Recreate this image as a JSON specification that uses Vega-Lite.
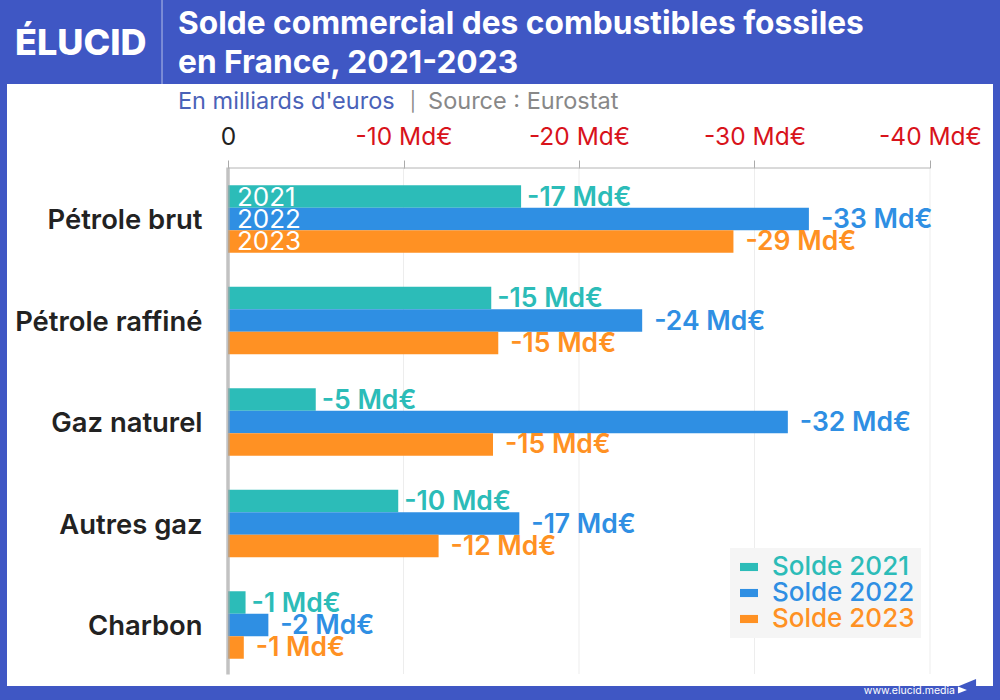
{
  "$schema": "https://vega.github.io/schema/vega-lite/v6.json",
  "autosize": "none",
  "width": 986,
  "height": 602,
  "padding": {"left": 7, "top": 84, "right": 7, "bottom": 14},
  "background": "#3f57c4",
  "view": {"fill": "white", "stroke": null},
  "config": {"font": "Inter"},
  "title": {
    "text": ["Solde commercial des combustibles fossiles", "en France, 2021-2023"],
    "anchor": "start",
    "frame": "group",
    "dx": 171,
    "dy": 80,
    "offset": 0,
    "color": "white",
    "font": "Inter",
    "fontSize": 31.7,
    "fontWeight": 700,
    "lineHeight": 39
  },
  "datasets": {
    "soldes": [
      {"categorie": "Pétrole brut", "annee": "2021", "solde": -16.7, "etiquette": "-17 Md€"},
      {"categorie": "Pétrole brut", "annee": "2022", "solde": -33.1, "etiquette": "-33 Md€"},
      {"categorie": "Pétrole brut", "annee": "2023", "solde": -28.8, "etiquette": "-29 Md€"},
      {"categorie": "Pétrole raffiné", "annee": "2021", "solde": -15.0, "etiquette": "-15 Md€"},
      {"categorie": "Pétrole raffiné", "annee": "2022", "solde": -23.6, "etiquette": "-24 Md€"},
      {"categorie": "Pétrole raffiné", "annee": "2023", "solde": -15.4, "etiquette": "-15 Md€"},
      {"categorie": "Gaz naturel", "annee": "2021", "solde": -5.0, "etiquette": "-5 Md€"},
      {"categorie": "Gaz naturel", "annee": "2022", "solde": -31.9, "etiquette": "-32 Md€"},
      {"categorie": "Gaz naturel", "annee": "2023", "solde": -15.1, "etiquette": "-15 Md€"},
      {"categorie": "Autres gaz", "annee": "2021", "solde": -9.7, "etiquette": "-10 Md€"},
      {"categorie": "Autres gaz", "annee": "2022", "solde": -16.6, "etiquette": "-17 Md€"},
      {"categorie": "Autres gaz", "annee": "2023", "solde": -12.0, "etiquette": "-12 Md€"},
      {"categorie": "Charbon", "annee": "2021", "solde": -1.0, "etiquette": "-1 Md€"},
      {"categorie": "Charbon", "annee": "2022", "solde": -2.3, "etiquette": "-2 Md€"},
      {"categorie": "Charbon", "annee": "2023", "solde": -0.9, "etiquette": "-1 Md€"}
    ],
    "graduations": [{"valeur": -10}, {"valeur": -20}, {"valeur": -30}, {"valeur": -40}]
  },
  "layer": [
    {
      "data": {"name": "graduations"},
      "mark": {"type": "tick", "color": "#e6e6e6", "thickness": 1, "size": 506, "yOffset": -1},
      "encoding": {
        "x": {
          "field": "valeur",
          "type": "quantitative",
          "scale": {"domain": [12.593, -43.59], "nice": false, "zero": false},
          "axis": {
            "orient": "top",
            "title": null,
            "offset": -84,
            "values": [0, -10, -20, -30, -40],
            "grid": false,
            "domain": false,
            "tickSize": 8,
            "tickColor": "#aaaaaa",
            "labelPadding": 11,
            "labelFontSize": 24.5,
            "labelFontWeight": 400,
            "labelColor": {"condition": {"test": "datum.value === 0", "value": "#222222"}, "value": "#d8131b"},
            "labelExpr": "datum.value === 0 ? '0' : datum.value + ' Md€'"
          }
        },
        "y": {
          "datum": "Gaz naturel",
          "type": "nominal",
          "scale": {
            "domain": ["Pétrole brut", "Pétrole raffiné", "Gaz naturel", "Autres gaz", "Charbon"],
            "range": [84.25, 591.75],
            "paddingInner": 0.335,
            "paddingOuter": 0.1675
          },
          "axis": {
            "title": null,
            "offset": -195,
            "domain": false,
            "ticks": false,
            "labelPadding": 0,
            "labelOffset": 2,
            "labelFontSize": 27.4,
            "labelFontWeight": 600,
            "labelColor": "#222222",
            "labelLimit": 300
          }
        }
      }
    },
    {
      "data": {"name": "soldes"},
      "mark": {"type": "bar"},
      "encoding": {
        "x": {"field": "solde", "type": "quantitative"},
        "x2": {"datum": 0},
        "y": {"field": "categorie", "type": "nominal"},
        "yOffset": {"field": "annee", "type": "nominal", "scale": {"paddingInner": 0, "paddingOuter": 0}},
        "color": {
          "field": "annee",
          "type": "nominal",
          "scale": {"domain": ["2021", "2022", "2023"], "range": ["#2cbcb8", "#2f8fe3", "#ff9123"]},
          "legend": {
            "title": null,
            "orient": "none",
            "legendX": 723,
            "legendY": 464,
            "fillColor": "#f5f5f5",
            "padding": 6,
            "symbolType": "M-1,-0.45H1V0.45H-1Z",
            "symbolSize": 324,
            "symbolStrokeWidth": 0,
            "labelFontSize": 26,
            "labelFontWeight": 500,
            "labelExpr": "'Solde ' + datum.label",
            "labelOffset": 10,
            "rowPadding": -2.5,
            "encode": {"labels": {"update": {"fill": {"scale": "color", "field": "value"}}}}
          }
        }
      }
    },
    {
      "data": {"values": [{"axe": "zero"}]},
      "mark": {"type": "tick", "color": "#a8a8a8", "thickness": 3.5, "size": 507, "yOffset": -1},
      "encoding": {
        "x": {"datum": 0, "type": "quantitative"},
        "y": {"datum": "Gaz naturel", "type": "nominal"}
      }
    },
    {
      "data": {"values": [{"axe": "haut"}]},
      "mark": {"type": "rule", "color": "#b4b4b4", "strokeWidth": 1, "yOffset": -51},
      "encoding": {
        "x": {"datum": 0, "type": "quantitative"},
        "x2": {"datum": -40},
        "y": {"datum": "Pétrole brut", "type": "nominal"}
      }
    },
    {
      "data": {"name": "soldes"},
      "transform": [{"filter": "datum.annee === '2021'"}],
      "mark": {"type": "text", "align": "left", "baseline": "middle", "dx": 6, "dy": 1, "fontSize": 26.5, "fontWeight": 600},
      "encoding": {
        "x": {"field": "solde", "type": "quantitative"},
        "y": {"field": "categorie", "type": "nominal"},
        "yOffset": {"field": "annee", "type": "nominal"},
        "color": {"field": "annee", "type": "nominal"},
        "text": {"field": "etiquette"}
      }
    },
    {
      "data": {"name": "soldes"},
      "transform": [{"filter": "datum.annee !== '2021'"}],
      "mark": {"type": "text", "align": "left", "baseline": "middle", "dx": 12, "dy": 1, "fontSize": 26.5, "fontWeight": 600},
      "encoding": {
        "x": {"field": "solde", "type": "quantitative"},
        "y": {"field": "categorie", "type": "nominal"},
        "yOffset": {"field": "annee", "type": "nominal"},
        "color": {"field": "annee", "type": "nominal"},
        "text": {"field": "etiquette"}
      }
    },
    {
      "data": {"name": "soldes"},
      "transform": [{"filter": "datum.categorie === 'Pétrole brut'"}],
      "mark": {"type": "text", "align": "left", "baseline": "middle", "dx": 9, "dy": 1, "fontSize": 26, "fontWeight": 400, "color": "white"},
      "encoding": {
        "x": {"datum": 0, "type": "quantitative"},
        "y": {"field": "categorie", "type": "nominal"},
        "yOffset": {"field": "annee", "type": "nominal"},
        "text": {"field": "annee"}
      }
    },
    {
      "data": {"values": [{"texte": "En milliards d'euros"}]},
      "mark": {"type": "text", "align": "left", "baseline": "middle", "fontSize": 23.5, "color": "#4a62b8", "dy": -117},
      "encoding": {
        "x": {"datum": 2.85, "type": "quantitative"},
        "y": {"datum": "Pétrole brut", "type": "nominal"},
        "text": {"field": "texte"}
      }
    },
    {
      "data": {"values": [{"texte": "|"}]},
      "mark": {"type": "text", "align": "left", "baseline": "middle", "fontSize": 19, "color": "#888888", "dy": -117},
      "encoding": {
        "x": {"datum": -10.35, "type": "quantitative"},
        "y": {"datum": "Pétrole brut", "type": "nominal"},
        "text": {"field": "texte"}
      }
    },
    {
      "data": {"values": [{"texte": "Source : Eurostat"}]},
      "mark": {"type": "text", "align": "left", "baseline": "middle", "fontSize": 23.5, "color": "#888888", "dy": -117},
      "encoding": {
        "x": {"datum": -11.4, "type": "quantitative"},
        "y": {"datum": "Pétrole brut", "type": "nominal"},
        "text": {"field": "texte"}
      }
    },
    {
      "data": {"values": [{"texte": "ÉLUCID"}]},
      "mark": {"type": "text", "align": "left", "baseline": "middle", "fontSize": 36, "fontWeight": 800, "color": "white", "dy": -175},
      "encoding": {
        "x": {"datum": 12.14, "type": "quantitative"},
        "y": {"datum": "Pétrole brut", "type": "nominal"},
        "text": {"field": "texte"}
      }
    },
    {
      "data": {"values": [{"repere": "separateur"}]},
      "mark": {"type": "tick", "color": "#ccd3f0", "thickness": 1.2, "size": 84, "yOffset": -177},
      "encoding": {
        "x": {"datum": 3.76, "type": "quantitative"},
        "y": {"datum": "Pétrole brut", "type": "nominal"}
      }
    },
    {
      "data": {"values": [{"texte": "www.elucid.media"}]},
      "mark": {"type": "text", "align": "right", "baseline": "middle", "fontSize": 10.5, "color": "white", "dy": 66},
      "encoding": {
        "x": {"datum": -41.42, "type": "quantitative"},
        "y": {"datum": "Charbon", "type": "nominal"},
        "text": {"field": "texte"}
      }
    },
    {
      "data": {"values": [{"repere": "logo haut"}]},
      "mark": {"type": "point", "filled": true, "opacity": 1, "color": "#3f57c4", "size": 289, "yOffset": 57.5, "shape": "M-1,0.4L1,-0.4L1,0.4Z"},
      "encoding": {
        "x": {"datum": -42.14, "type": "quantitative"},
        "y": {"datum": "Charbon", "type": "nominal"}
      }
    },
    {
      "data": {"values": [{"repere": "logo bas"}]},
      "mark": {"type": "point", "filled": true, "opacity": 1, "color": "white", "size": 81, "yOffset": 65, "shape": "M-1,-0.78L1,0L-1,0.78Z"},
      "encoding": {
        "x": {"datum": -41.85, "type": "quantitative"},
        "y": {"datum": "Charbon", "type": "nominal"}
      }
    }
  ]
}
